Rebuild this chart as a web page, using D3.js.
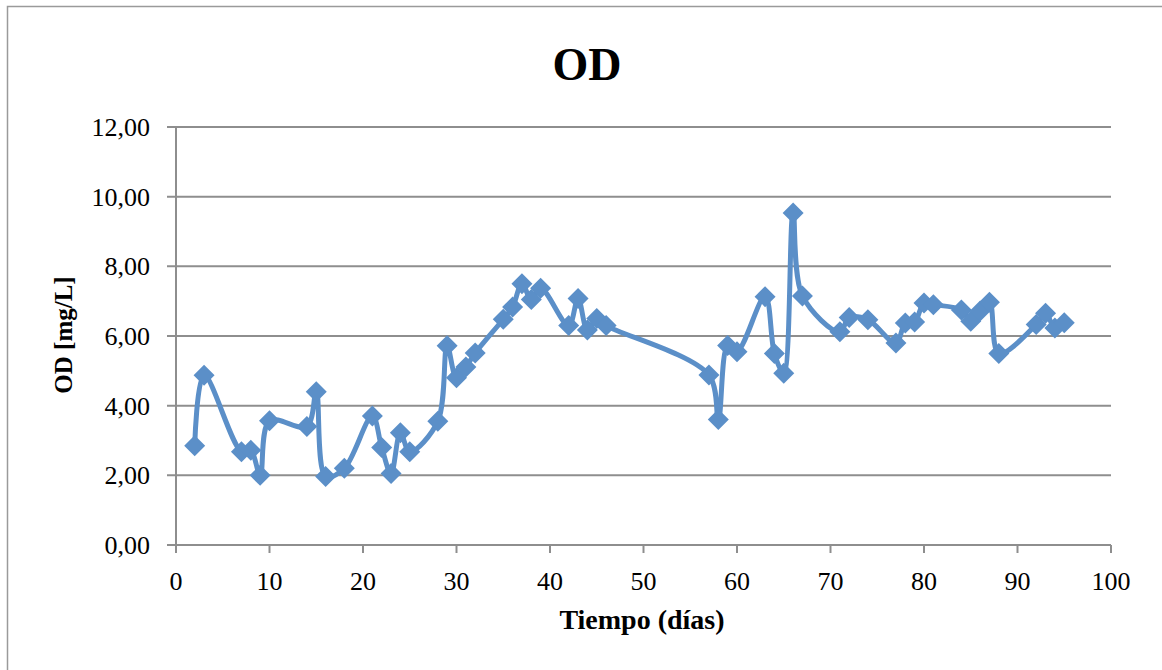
<!DOCTYPE html>
<html>
<head>
<meta charset="utf-8">
<script src="https://cdn.jsdelivr.net/npm/d3@7"></script>
<style>
  body { margin: 0; background: #fff; }
  text { font-family: "Liberation Serif", "DejaVu Serif", serif; fill: #000; }
</style>
</head>
<body>
<div id="chart"></div>
<script>
// días and OD [mg/L]
var dias = [2, 3, 7, 8, 9, 10, 14, 15, 16, 18, 21, 22, 23, 24, 25, 28, 29, 30, 31, 32,
            35, 36, 37, 38, 39, 42, 43, 44, 45, 46, 57, 58, 59, 60, 63, 64, 65, 66, 67,
            71, 72, 74, 77, 78, 79, 80, 81, 84, 85, 86, 87, 88, 92, 93, 94, 95]
var od = [2.85, 4.87, 2.68, 2.72, 2.0, 3.57, 3.4, 4.4, 1.97, 2.2, 3.7, 2.8, 2.05, 3.22, 2.68, 3.55, 5.72, 4.8, 5.11, 5.51,
          6.48, 6.83, 7.5, 7.05, 7.37, 6.3, 7.08, 6.17, 6.5, 6.3, 4.88, 3.6, 5.73, 5.55, 7.13, 5.5, 4.93, 9.53, 7.15,
          6.12, 6.53, 6.47, 5.8, 6.37, 6.4, 6.95, 6.9, 6.75, 6.42, 6.72, 6.97, 5.5, 6.33, 6.65, 6.23, 6.38]
var xTicks = [0, 10, 20, 30, 40, 50, 60, 70, 80, 90, 100]
var yTicks = [0, 2, 4, 6, 8, 10, 12]

var data = dias.map(function(d, i) { return {x: d, y: od[i]} })

var W = 1162, H = 670
var margin = {top: 127, right: 51, bottom: 125, left: 176},
    width = W - margin.left - margin.right,
    height = H - margin.top - margin.bottom

var blue = "#5b8fc8", grey = "#8e8e8e"

var svg = d3.select("#chart").append("svg")
    .attr("width", W)
    .attr("height", H)

// chart frame
svg.append("rect")
    .attr("x", 7.5).attr("y", 6.5)
    .attr("width", W + 20).attr("height", H + 20)
    .attr("fill", "none").attr("stroke", "#9a9a9a").attr("stroke-width", 1.5)

var g = svg.append("g")
    .attr("transform", "translate(" + margin.left + "," + margin.top + ")")

var x = d3.scaleLinear().domain([0, 100]).range([0, width])
var y = d3.scaleLinear().domain([0, 12]).range([height, 0])

// grid lines
g.selectAll(".grid")
    .data(yTicks)
    .enter()
    .append("line")
    .attr("class", "grid")
    .attr("x1", -9).attr("x2", width)
    .attr("y1", function(d) { return y(d) }).attr("y2", function(d) { return y(d) })
    .attr("stroke", grey).attr("stroke-width", 2)

// y axis line
g.append("line")
    .attr("x1", 0).attr("x2", 0).attr("y1", 0).attr("y2", height)
    .attr("stroke", grey).attr("stroke-width", 2)

// x ticks
g.selectAll(".xtick")
    .data(xTicks)
    .enter()
    .append("line")
    .attr("class", "xtick")
    .attr("x1", function(d) { return x(d) }).attr("x2", function(d) { return x(d) })
    .attr("y1", height).attr("y2", height + 8)
    .attr("stroke", grey).attr("stroke-width", 2)

g.selectAll(".xlabel")
    .data(xTicks)
    .enter()
    .append("text")
    .attr("class", "xlabel")
    .attr("x", function(d) { return x(d) })
    .attr("y", height + 45)
    .style("text-anchor", "middle")
    .style("font-size", "26px")
    .text(function(d) { return d })

g.selectAll(".ylabel")
    .data(yTicks)
    .enter()
    .append("text")
    .attr("class", "ylabel")
    .attr("x", -26)
    .attr("y", function(d) { return y(d) + 9 })
    .style("text-anchor", "end")
    .style("font-size", "26px")
    .text(function(d) { return d3.format(".2f")(d).replace(".", ",") })

// series line
var line = d3.line()
    .x(function(d) { return x(d.x) })
    .y(function(d) { return y(d.y) })
    .curve(d3.curveCatmullRom.alpha(0.5))

g.append("path")
    .datum(data)
    .attr("d", line)
    .attr("fill", "none")
    .attr("stroke", blue)
    .attr("stroke-width", 5)
    .attr("stroke-linejoin", "round")

// diamond markers
g.selectAll(".marker")
    .data(data)
    .enter()
    .append("path")
    .attr("class", "marker")
    .attr("d", "M0,-10.5L10.5,0L0,10.5L-10.5,0Z")
    .attr("transform", function(d) { return "translate(" + x(d.x) + "," + y(d.y) + ")" })
    .attr("fill", blue)

// title
svg.append("text")
    .attr("x", 587).attr("y", 80)
    .style("text-anchor", "middle")
    .style("font-size", "46px")
    .style("font-weight", "bold")
    .text("OD")

// axis titles
svg.append("text")
    .attr("x", 642).attr("y", 629)
    .style("text-anchor", "middle")
    .style("font-size", "28px")
    .style("font-weight", "bold")
    .text("Tiempo (días)")

svg.append("text")
    .attr("transform", "translate(72,335) rotate(-90)")
    .style("text-anchor", "middle")
    .style("font-size", "25px")
    .style("font-weight", "bold")
    .text("OD [mg/L]")
</script>
</body>
</html>
